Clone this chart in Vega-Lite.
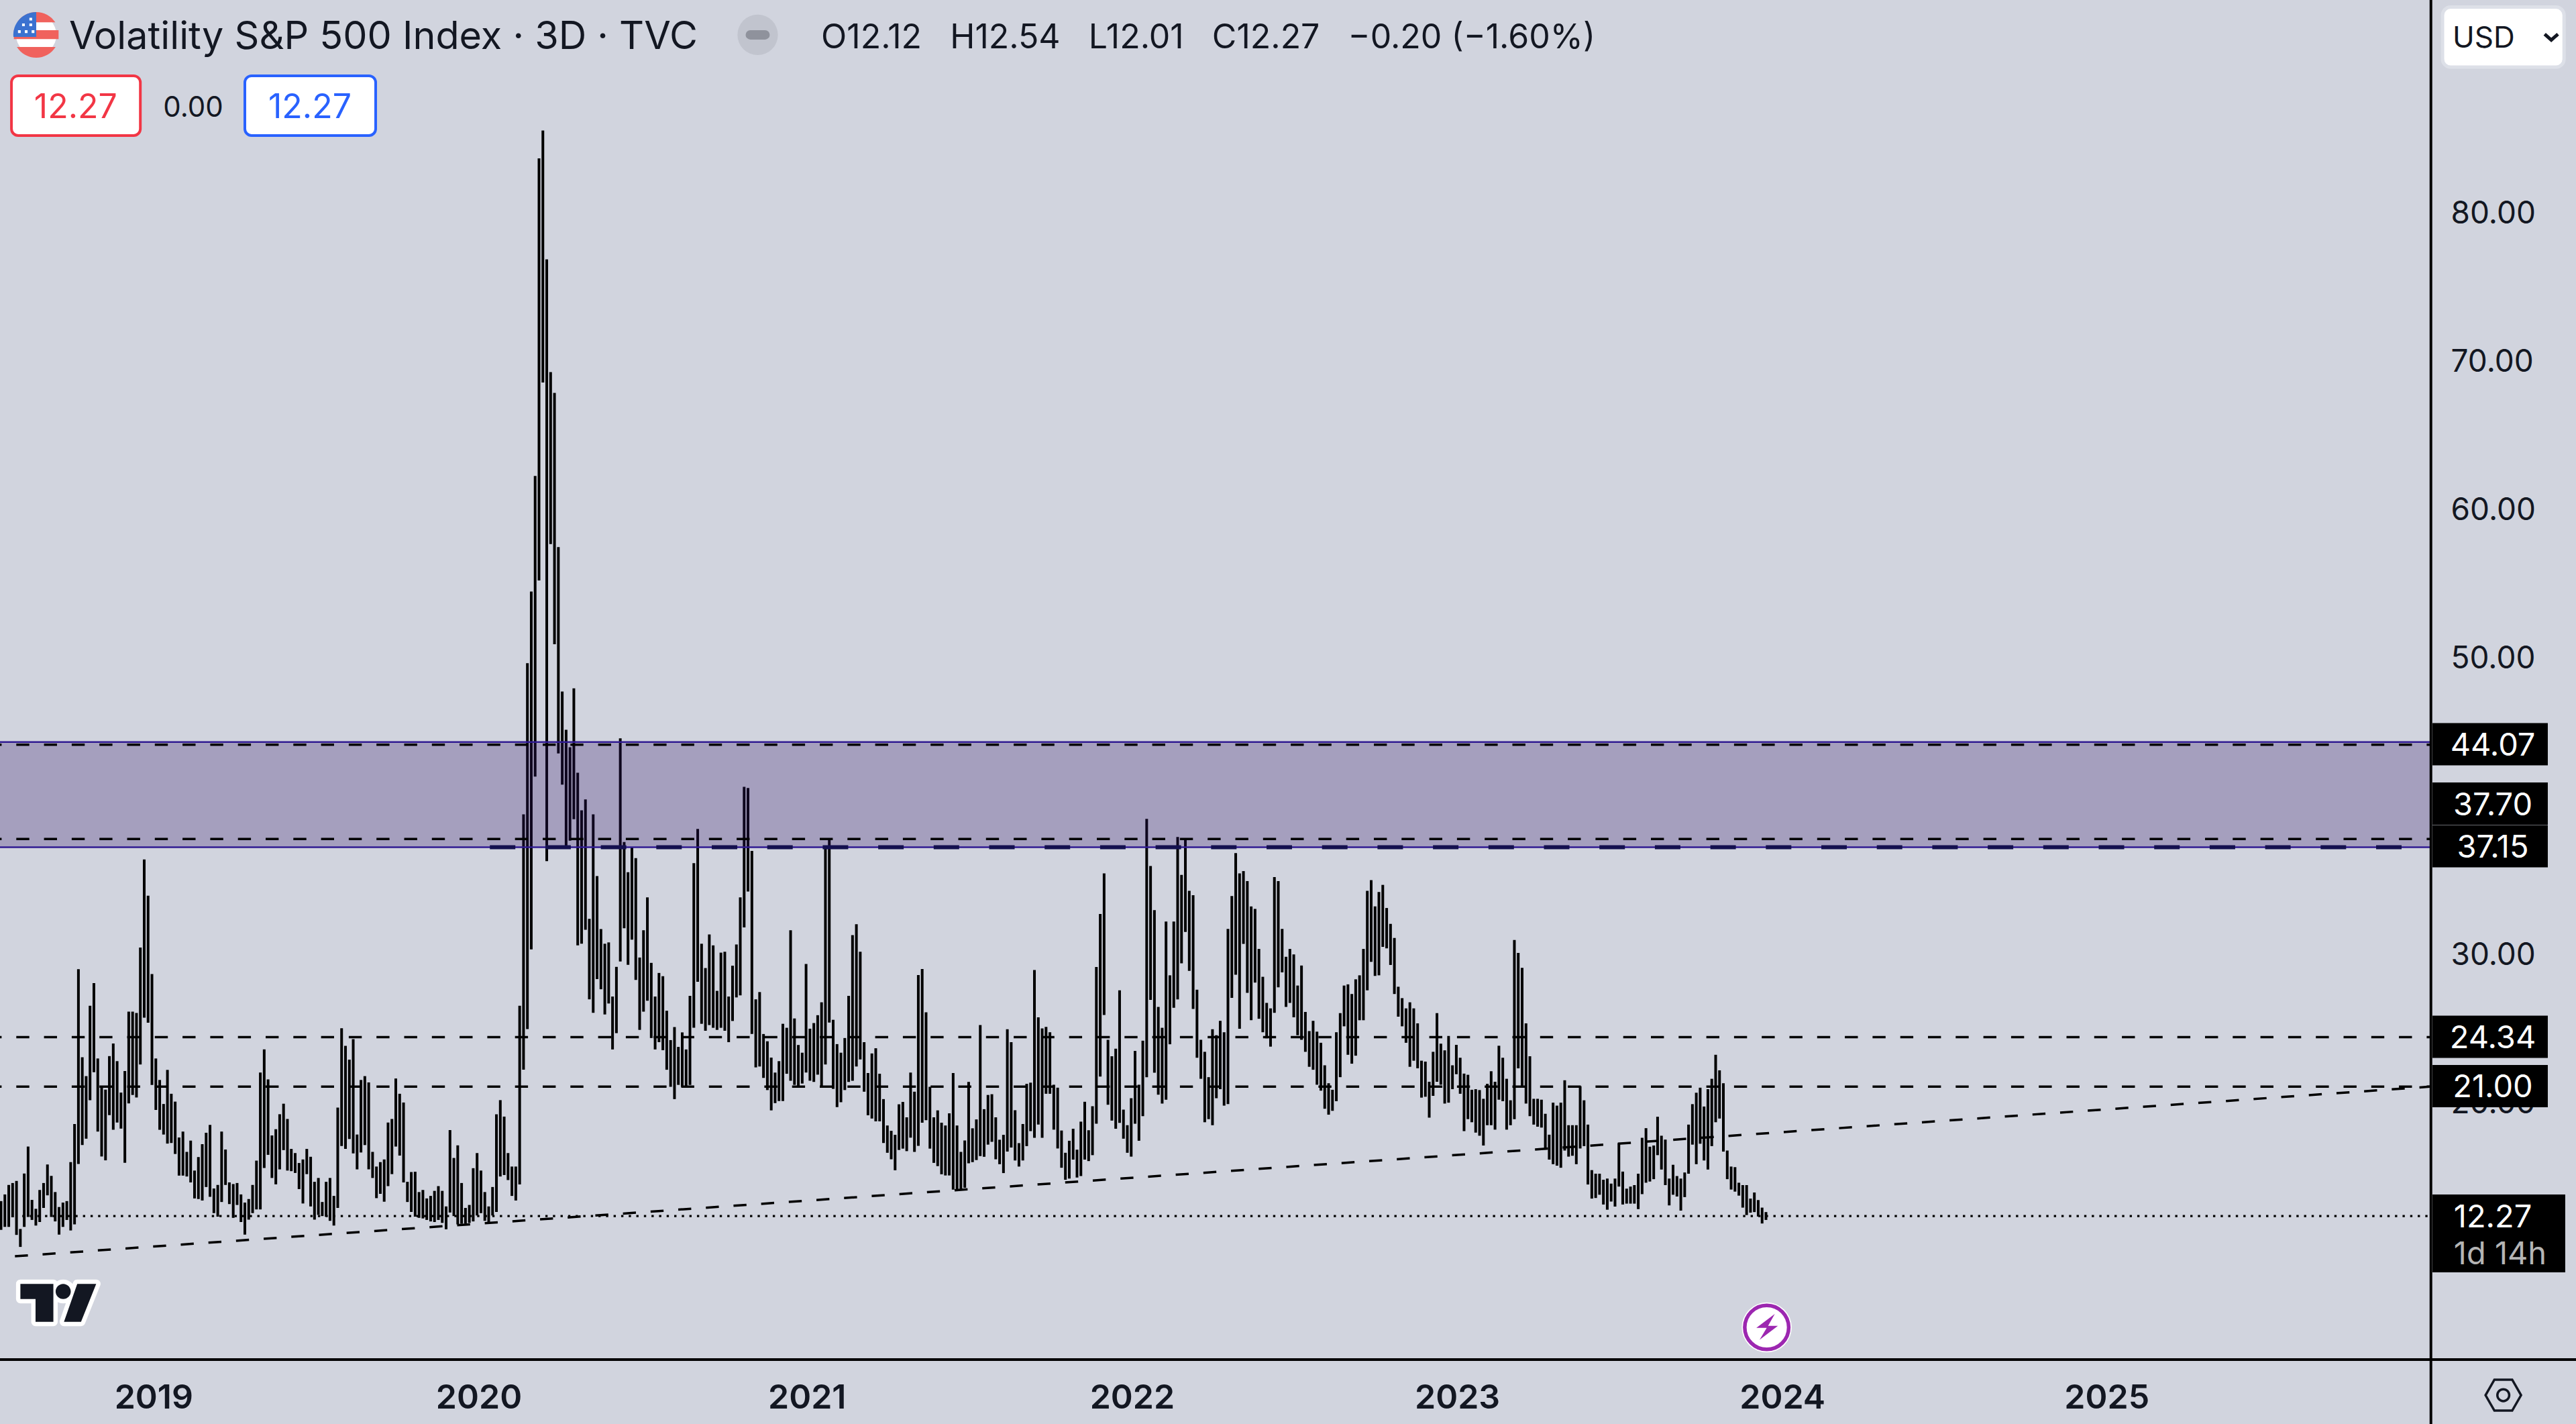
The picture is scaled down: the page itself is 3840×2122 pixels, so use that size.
{
  "$schema": "https://vega.github.io/schema/vega-lite/v6.json",
  "description": "Volatility S&P 500 Index, 3 day bars, with horizontal levels and a rising trend line.",
  "width": 3622,
  "height": 2026,
  "autosize": {"type": "none"},
  "padding": {"left": 0, "top": 0, "right": 218, "bottom": 96},
  "background": "#D1D4DE",
  "config": {"view": {"stroke": null}, "text": {"font": "Inter", "dy": 3}},
  "data": {"values": [{"row": 1}]},
  "datasets": {
    "bars": [
      {"bar":0,"high":13.28,"low":11.34},{"bar":1,"high":13.73,"low":11.54},{"bar":2,"high":14.37,"low":11.54},{"bar":3,"high":14.5,"low":12.19},{"bar":4,"high":14.64,"low":11.0},{"bar":5,"high":11.4,"low":10.19},{"bar":6,"high":15.14,"low":11.54},{"bar":7,"high":16.96,"low":12.21},{"bar":8,"high":13.36,"low":12.01},{"bar":9,"high":12.76,"low":11.63},
      {"bar":10,"high":14.03,"low":11.87},{"bar":11,"high":14.5,"low":12.82},{"bar":12,"high":15.75,"low":13.67},{"bar":13,"high":14.98,"low":12.21},{"bar":14,"high":13.89,"low":11.91},{"bar":15,"high":12.88,"low":11.02},{"bar":16,"high":13.18,"low":11.54},{"bar":17,"high":13.28,"low":12.01},{"bar":18,"high":15.91,"low":11.3},{"bar":19,"high":18.48,"low":11.71},
      {"bar":20,"high":28.92,"low":15.79},{"bar":21,"high":22.98,"low":17.06},{"bar":22,"high":21.71,"low":17.49},{"bar":23,"high":26.46,"low":20.09},{"bar":24,"high":27.99,"low":21.97},{"bar":25,"high":22.9,"low":17.97},{"bar":26,"high":21.04,"low":16.29},{"bar":27,"high":20.8,"low":16.03},{"bar":28,"high":23.06,"low":19.08},{"bar":29,"high":23.91,"low":18.09},
      {"bar":30,"high":22.72,"low":18.58},{"bar":31,"high":20.6,"low":18.17},{"bar":32,"high":22.05,"low":15.87},{"bar":33,"high":26.06,"low":19.87},{"bar":34,"high":26.06,"low":20.44},{"bar":35,"high":25.97,"low":20.27},{"bar":36,"high":30.38,"low":22.5},{"bar":37,"high":36.32,"low":25.65},{"bar":38,"high":33.88,"low":25.31},{"bar":39,"high":28.6,"low":21.12},
      {"bar":40,"high":22.9,"low":19.43},{"bar":41,"high":21.45,"low":18.09},{"bar":42,"high":19.83,"low":17.77},{"bar":43,"high":22.13,"low":17.16},{"bar":44,"high":20.52,"low":17.2},{"bar":45,"high":19.99,"low":16.46},{"bar":46,"high":17.57,"low":15.0},{"bar":47,"high":17.97,"low":15.0},{"bar":48,"high":16.6,"low":14.94},{"bar":49,"high":17.36,"low":14.54},
      {"bar":50,"high":15.34,"low":13.46},{"bar":51,"high":16.25,"low":13.42},{"bar":52,"high":17.12,"low":13.32},{"bar":53,"high":17.89,"low":14.23},{"bar":54,"high":18.42,"low":13.57},{"bar":55,"high":14.13,"low":12.47},{"bar":56,"high":14.37,"low":12.23},{"bar":57,"high":17.97,"low":13.22},{"bar":58,"high":16.76,"low":14.37},{"bar":59,"high":14.54,"low":13.08},
      {"bar":60,"high":14.43,"low":12.15},{"bar":61,"high":14.5,"low":13.02},{"bar":62,"high":13.73,"low":11.87},{"bar":63,"high":13.18,"low":11.02},{"bar":64,"high":13.42,"low":12.03},{"bar":65,"high":14.37,"low":12.47},{"bar":66,"high":16.01,"low":12.72},{"bar":67,"high":21.95,"low":12.72},{"bar":68,"high":23.51,"low":15.51},{"bar":69,"high":21.49,"low":16.4},
      {"bar":70,"high":17.71,"low":14.84},{"bar":71,"high":18.13,"low":14.41},{"bar":72,"high":19.14,"low":15.42},{"bar":73,"high":19.85,"low":16.72},{"bar":74,"high":18.82,"low":15.34},{"bar":75,"high":16.8,"low":15.3},{"bar":76,"high":16.52,"low":15.18},{"bar":77,"high":15.85,"low":14.09},{"bar":78,"high":16.09,"low":13.12},{"bar":79,"high":16.8,"low":15.1},
      {"bar":80,"high":16.27,"low":12.92},{"bar":81,"high":14.58,"low":12.03},{"bar":82,"high":14.84,"low":12.35},{"bar":83,"high":13.22,"low":12.27},{"bar":84,"high":14.58,"low":12.23},{"bar":85,"high":14.84,"low":11.95},{"bar":86,"high":13.63,"low":11.63},{"bar":87,"high":19.59,"low":12.82},{"bar":88,"high":24.94,"low":17.0},{"bar":89,"high":23.75,"low":16.8},
      {"bar":90,"high":22.82,"low":17.47},{"bar":91,"high":24.2,"low":16.5},{"bar":92,"high":17.77,"low":15.42},{"bar":93,"high":21.45,"low":16.56},{"bar":94,"high":21.71,"low":17.06},{"bar":95,"high":21.29,"low":15.42},{"bar":96,"high":16.6,"low":14.84},{"bar":97,"high":15.61,"low":13.48},{"bar":98,"high":15.91,"low":13.77},{"bar":99,"high":16.09,"low":13.24},
      {"bar":100,"high":18.58,"low":14.29},{"bar":101,"high":18.82,"low":15.1},{"bar":102,"high":21.55,"low":16.96},{"bar":103,"high":20.52,"low":16.35},{"bar":104,"high":19.93,"low":14.54},{"bar":105,"high":14.58,"low":13.22},{"bar":106,"high":15.24,"low":12.55},{"bar":107,"high":15.26,"low":12.23},{"bar":108,"high":13.89,"low":12.15},{"bar":109,"high":14.03,"low":12.11},
      {"bar":110,"high":13.46,"low":12.01},{"bar":111,"high":13.63,"low":11.91},{"bar":112,"high":13.97,"low":11.87},{"bar":113,"high":14.29,"low":12.01},{"bar":114,"high":13.97,"low":11.81},{"bar":115,"high":12.92,"low":11.38},{"bar":116,"high":18.07,"low":12.51},{"bar":117,"high":16.19,"low":12.27},{"bar":118,"high":17.04,"low":11.71},{"bar":119,"high":14.5,"low":11.75},
      {"bar":120,"high":12.82,"low":11.75},{"bar":121,"high":13.02,"low":11.81},{"bar":122,"high":15.5,"low":11.91},{"bar":123,"high":16.52,"low":12.31},{"bar":124,"high":15.34,"low":12.47},{"bar":125,"high":13.89,"low":11.95},{"bar":126,"high":12.92,"low":11.75},{"bar":127,"high":14.23,"low":12.31},{"bar":128,"high":19.14,"low":12.55},{"bar":129,"high":20.09,"low":14.94},
      {"bar":130,"high":18.98,"low":15.04},{"bar":131,"high":16.52,"low":14.7},{"bar":132,"high":15.61,"low":13.63},{"bar":133,"high":15.61,"low":13.32},{"bar":134,"high":26.46,"low":14.41},{"bar":135,"high":39.37,"low":22.14},{"bar":136,"high":49.57,"low":24.88},{"bar":137,"high":54.4,"low":30.26},{"bar":138,"high":62.2,"low":41.92},{"bar":139,"high":83.62,"low":55.14},
      {"bar":140,"high":85.5,"low":68.5},{"bar":141,"high":76.8,"low":36.21},{"bar":142,"high":69.2,"low":57.6},{"bar":143,"high":67.8,"low":50.84},{"bar":144,"high":57.4,"low":43.48},{"bar":145,"high":47.65,"low":41.37},{"bar":146,"high":45.07,"low":37.17},{"bar":147,"high":43.9,"low":37.59},{"bar":148,"high":47.87,"low":39.04},{"bar":149,"high":42.17,"low":30.53},
      {"bar":150,"high":39.64,"low":30.64},{"bar":151,"high":40.38,"low":31.58},{"bar":152,"high":32.32,"low":26.89},{"bar":153,"high":39.37,"low":25.98},{"bar":154,"high":35.2,"low":28.26},{"bar":155,"high":31.63,"low":27.57},{"bar":156,"high":30.64,"low":25.87},{"bar":157,"high":30.73,"low":26.61},{"bar":158,"high":27.08,"low":23.51},{"bar":159,"high":29.08,"low":24.61},
      {"bar":160,"high":44.5,"low":29.44},{"bar":161,"high":37.5,"low":31.69},{"bar":162,"high":35.47,"low":29.22},{"bar":163,"high":37.17,"low":30.92},{"bar":164,"high":36.41,"low":28.2},{"bar":165,"high":29.71,"low":24.83},{"bar":166,"high":31.55,"low":26.06},{"bar":167,"high":33.77,"low":26.8},{"bar":168,"high":29.35,"low":24.28},{"bar":169,"high":27.08,"low":23.51},
      {"bar":170,"high":28.67,"low":24.0},{"bar":171,"high":28.45,"low":23.46},{"bar":172,"high":26.12,"low":22.14},{"bar":173,"high":24.14,"low":20.99},{"bar":174,"high":25.02,"low":20.16},{"bar":175,"high":23.68,"low":21.12},{"bar":176,"high":24.66,"low":20.99},{"bar":177,"high":23.51,"low":20.93},{"bar":178,"high":27.13,"low":21.12},{"bar":179,"high":36.08,"low":24.97},
      {"bar":180,"high":38.38,"low":28.07},{"bar":181,"high":30.64,"low":25.24},{"bar":182,"high":29.0,"low":24.77},{"bar":183,"high":31.27,"low":25.16},{"bar":184,"high":30.53,"low":24.97},{"bar":185,"high":27.46,"low":24.83},{"bar":186,"high":30.04,"low":24.97},{"bar":187,"high":30.1,"low":24.77},{"bar":188,"high":27.08,"low":24.0},{"bar":189,"high":29.16,"low":25.43},
      {"bar":190,"high":30.59,"low":27.02},{"bar":191,"high":33.77,"low":27.16},{"bar":192,"high":41.23,"low":31.74},{"bar":193,"high":41.15,"low":34.16},{"bar":194,"high":36.9,"low":24.55},{"bar":195,"high":26.89,"low":22.3},{"bar":196,"high":27.38,"low":22.36},{"bar":197,"high":24.55,"low":21.59},{"bar":198,"high":24.06,"low":20.77},{"bar":199,"high":22.96,"low":19.4},
      {"bar":200,"high":21.95,"low":19.89},{"bar":201,"high":22.72,"low":20.03},{"bar":202,"high":25.24,"low":20.03},{"bar":203,"high":24.97,"low":21.87},{"bar":204,"high":31.55,"low":21.4},{"bar":205,"high":25.6,"low":21.12},{"bar":206,"high":23.81,"low":20.99},{"bar":207,"high":23.29,"low":21.21},{"bar":208,"high":29.27,"low":21.95},{"bar":209,"high":24.91,"low":21.4},
      {"bar":210,"high":25.29,"low":21.32},{"bar":211,"high":25.82,"low":21.81},{"bar":212,"high":26.69,"low":21.04},{"bar":213,"high":37.17,"low":22.5},{"bar":214,"high":37.67,"low":25.32},{"bar":215,"high":25.51,"low":20.85},{"bar":216,"high":23.87,"low":19.62},{"bar":217,"high":23.29,"low":19.95},{"bar":218,"high":24.28,"low":20.77},{"bar":219,"high":27.13,"low":21.32},
      {"bar":220,"high":31.22,"low":21.4},{"bar":221,"high":31.96,"low":22.36},{"bar":222,"high":30.1,"low":22.83},{"bar":223,"high":24.0,"low":20.66},{"bar":224,"high":21.92,"low":19.07},{"bar":225,"high":23.24,"low":18.85},{"bar":226,"high":23.59,"low":18.66},{"bar":227,"high":21.87,"low":18.66},{"bar":228,"high":20.16,"low":17.2},{"bar":229,"high":18.38,"low":16.54},
      {"bar":230,"high":18.02,"low":16.1},{"bar":231,"high":17.75,"low":15.36},{"bar":232,"high":19.81,"low":16.73},{"bar":233,"high":19.97,"low":16.82},{"bar":234,"high":18.93,"low":16.65},{"bar":235,"high":21.95,"low":17.56},{"bar":236,"high":20.66,"low":16.6},{"bar":237,"high":28.53,"low":17.01},{"bar":238,"high":28.94,"low":18.57},{"bar":239,"high":26.01,"low":18.74},
      {"bar":240,"high":20.99,"low":16.82},{"bar":241,"high":18.93,"low":15.86},{"bar":242,"high":19.4,"low":15.64},{"bar":243,"high":18.57,"low":15.09},{"bar":244,"high":18.38,"low":15.01},{"bar":245,"high":19.2,"low":15.01},{"bar":246,"high":21.92,"low":14.05},{"bar":247,"high":18.38,"low":14.05},{"bar":248,"high":16.6,"low":14.05},{"bar":249,"high":17.37,"low":14.18},
      {"bar":250,"high":21.32,"low":15.83},{"bar":251,"high":18.19,"low":15.91},{"bar":252,"high":18.79,"low":16.05},{"bar":253,"high":25.16,"low":16.32},{"bar":254,"high":19.48,"low":16.27},{"bar":255,"high":20.44,"low":17.09},{"bar":256,"high":20.49,"low":17.28},{"bar":257,"high":18.93,"low":16.1},{"bar":258,"high":17.42,"low":15.77},{"bar":259,"high":17.75,"low":15.17},
      {"bar":260,"high":24.87,"low":16.62},{"bar":261,"high":24.0,"low":16.89},{"bar":262,"high":19.41,"low":16.02},{"bar":263,"high":17.19,"low":15.61},{"bar":264,"high":18.48,"low":16.02},{"bar":265,"high":21.19,"low":16.99},{"bar":266,"high":21.27,"low":18.0},{"bar":267,"high":28.87,"low":17.55},{"bar":268,"high":25.68,"low":18.44},{"bar":269,"high":24.93,"low":17.55},
      {"bar":270,"high":25.03,"low":20.52},{"bar":271,"high":24.67,"low":20.52},{"bar":272,"high":21.13,"low":18.1},{"bar":273,"high":20.93,"low":16.83},{"bar":274,"high":18.04,"low":15.53},{"bar":275,"high":16.54,"low":14.72},{"bar":276,"high":17.35,"low":14.8},{"bar":277,"high":18.16,"low":16.08},{"bar":278,"high":16.75,"low":14.87},{"bar":279,"high":18.64,"low":14.97},
      {"bar":280,"high":19.98,"low":16.08},{"bar":281,"high":18.06,"low":15.98},{"bar":282,"high":19.68,"low":16.38},{"bar":283,"high":29.07,"low":18.5},{"bar":284,"high":32.65,"low":21.68},{"bar":285,"high":35.38,"low":25.84},{"bar":286,"high":24.16,"low":19.78},{"bar":287,"high":23.05,"low":18.71},{"bar":288,"high":23.56,"low":18.16},{"bar":289,"high":27.5,"low":18.56},
      {"bar":290,"high":19.45,"low":17.49},{"bar":291,"high":18.4,"low":16.54},{"bar":292,"high":20.22,"low":16.28},{"bar":293,"high":23.41,"low":18.5},{"bar":294,"high":21.13,"low":17.35},{"bar":295,"high":24.1,"low":19.01},{"bar":296,"high":39.06,"low":21.64},{"bar":297,"high":35.88,"low":26.85},{"bar":298,"high":32.91,"low":21.94},{"bar":299,"high":26.38,"low":20.46},
      {"bar":300,"high":24.97,"low":19.86},{"bar":301,"high":32.14,"low":20.12},{"bar":302,"high":28.51,"low":23.86},{"bar":303,"high":32.14,"low":26.32},{"bar":304,"high":37.84,"low":26.89},{"bar":305,"high":35.28,"low":29.32},{"bar":306,"high":37.7,"low":31.44},{"bar":307,"high":34.21,"low":28.81},{"bar":308,"high":33.92,"low":26.24},{"bar":309,"high":27.54,"low":22.95},
      {"bar":310,"high":24.16,"low":21.53},{"bar":311,"high":23.35,"low":18.6},{"bar":312,"high":21.64,"low":18.81},{"bar":313,"high":24.87,"low":18.4},{"bar":314,"high":24.47,"low":20.22},{"bar":315,"high":25.44,"low":20.83},{"bar":316,"high":24.67,"low":19.72},{"bar":317,"high":31.64,"low":19.82},{"bar":318,"high":33.86,"low":26.99},{"bar":319,"high":36.75,"low":28.55},
      {"bar":320,"high":35.38,"low":24.91},{"bar":321,"high":35.54,"low":30.63},{"bar":322,"high":34.87,"low":27.33},{"bar":323,"high":33.16,"low":25.48},{"bar":324,"high":32.99,"low":28.02},{"bar":325,"high":30.29,"low":25.58},{"bar":326,"high":28.41,"low":24.67},{"bar":327,"high":26.65,"low":24.26},{"bar":328,"high":26.28,"low":23.7},{"bar":329,"high":35.14,"low":25.98},
      {"bar":330,"high":34.87,"low":27.7},{"bar":331,"high":31.64,"low":28.71},{"bar":332,"high":29.76,"low":26.38},{"bar":333,"high":30.29,"low":26.65},{"bar":334,"high":29.92,"low":25.68},{"bar":335,"high":27.82,"low":24.47},{"bar":336,"high":29.17,"low":24.16},{"bar":337,"high":26.04,"low":23.35},{"bar":338,"high":24.75,"low":22.34},{"bar":339,"high":25.44,"low":22.14},
      {"bar":340,"high":24.71,"low":21.13},{"bar":341,"high":23.96,"low":20.73},{"bar":342,"high":22.44,"low":19.51},{"bar":343,"high":21.23,"low":19.11},{"bar":344,"high":20.79,"low":19.37},{"bar":345,"high":24.67,"low":20.02},{"bar":346,"high":25.96,"low":21.64},{"bar":347,"high":27.82,"low":25.07},{"bar":348,"high":27.9,"low":23.15},{"bar":349,"high":27.25,"low":22.55},
      {"bar":350,"high":28.24,"low":23.09},{"bar":351,"high":28.51,"low":25.48},{"bar":352,"high":30.29,"low":25.48},{"bar":353,"high":34.21,"low":27.5},{"bar":354,"high":34.93,"low":29.42},{"bar":355,"high":33.16,"low":28.47},{"bar":356,"high":34.13,"low":28.51},{"bar":357,"high":34.61,"low":30.43},{"bar":358,"high":33.05,"low":30.33},{"bar":359,"high":31.98,"low":29.21},
      {"bar":360,"high":31.03,"low":27.25},{"bar":361,"high":27.74,"low":25.72},{"bar":362,"high":26.97,"low":25.07},{"bar":363,"high":26.28,"low":23.96},{"bar":364,"high":26.69,"low":22.34},{"bar":365,"high":26.28,"low":22.75},{"bar":366,"high":25.27,"low":22.24},{"bar":367,"high":22.75,"low":20.26},{"bar":368,"high":22.69,"low":20.32},{"bar":369,"high":21.33,"low":18.91},
      {"bar":370,"high":23.35,"low":20.38},{"bar":371,"high":25.96,"low":21.33},{"bar":372,"high":23.9,"low":21.13},{"bar":373,"high":23.45,"low":19.86},{"bar":374,"high":24.42,"low":19.92},{"bar":375,"high":22.44,"low":20.83},{"bar":376,"high":23.82,"low":21.84},{"bar":377,"high":22.95,"low":20.52},{"bar":378,"high":21.88,"low":18.0},{"bar":379,"high":21.8,"low":18.81},
      {"bar":380,"high":20.79,"low":18.6},{"bar":381,"high":20.83,"low":17.9},{"bar":382,"high":20.77,"low":17.69},{"bar":383,"high":20.18,"low":17.03},{"bar":384,"high":21.19,"low":18.4},{"bar":385,"high":22.04,"low":18.4},{"bar":386,"high":21.33,"low":18.1},{"bar":387,"high":23.76,"low":20.12},{"bar":388,"high":22.95,"low":20.02},{"bar":389,"high":21.53,"low":18.1},
      {"bar":390,"high":20.08,"low":18.4},{"bar":391,"high":30.89,"low":18.81},{"bar":392,"high":30.02,"low":22.24},{"bar":393,"high":29.01,"low":21.03},{"bar":394,"high":25.27,"low":19.86},{"bar":395,"high":23.05,"low":19.01},{"bar":396,"high":20.18,"low":18.44},{"bar":397,"high":20.18,"low":18.3},{"bar":398,"high":20.12,"low":18.24},{"bar":399,"high":19.17,"low":16.75},
      {"bar":400,"high":17.76,"low":16.08},{"bar":401,"high":19.92,"low":15.77},{"bar":402,"high":19.72,"low":15.67},{"bar":403,"high":19.92,"low":15.53},{"bar":404,"high":21.43,"low":16.69},{"bar":405,"high":18.4,"low":16.28},{"bar":406,"high":18.4,"low":16.34},{"bar":407,"high":18.4,"low":15.77},{"bar":408,"high":21.03,"low":16.83},{"bar":409,"high":20.08,"low":16.99},
      {"bar":410,"high":18.44,"low":14.4},{"bar":411,"high":15.37,"low":13.45},{"bar":412,"high":15.13,"low":13.49},{"bar":413,"high":15.13,"low":13.71},{"bar":414,"high":14.72,"low":13.05},{"bar":415,"high":14.8,"low":12.7},{"bar":416,"high":14.46,"low":13.25},{"bar":417,"high":14.8,"low":12.91},{"bar":418,"high":17.19,"low":14.26},{"bar":419,"high":15.27,"low":13.05},
      {"bar":420,"high":14.12,"low":13.11},{"bar":421,"high":14.26,"low":13.11},{"bar":422,"high":14.36,"low":13.11},{"bar":423,"high":15.13,"low":12.74},{"bar":424,"high":17.55,"low":13.75},{"bar":425,"high":18.2,"low":14.52},{"bar":426,"high":16.95,"low":14.6},{"bar":427,"high":17.03,"low":14.76},{"bar":428,"high":18.97,"low":16.38},{"bar":429,"high":17.69,"low":15.41},
      {"bar":430,"high":17.43,"low":14.36},{"bar":431,"high":14.8,"low":12.99},{"bar":432,"high":15.73,"low":13.71},{"bar":433,"high":14.97,"low":13.59},{"bar":434,"high":14.8,"low":12.64},{"bar":435,"high":15.21,"low":13.55},{"bar":436,"high":18.44,"low":15.13},{"bar":437,"high":19.82,"low":17.09},{"bar":438,"high":20.59,"low":15.77},{"bar":439,"high":20.93,"low":17.15},
      {"bar":440,"high":19.66,"low":16.02},{"bar":441,"high":20.83,"low":15.41},{"bar":442,"high":21.53,"low":16.99},{"bar":443,"high":23.15,"low":18.6},{"bar":444,"high":22.1,"low":18.85},{"bar":445,"high":21.23,"low":16.62},{"bar":446,"high":16.69,"low":14.76},{"bar":447,"high":15.61,"low":14.06},{"bar":448,"high":15.57,"low":13.92},{"bar":449,"high":14.52,"low":13.65},
      {"bar":450,"high":14.36,"low":12.84},{"bar":451,"high":14.36,"low":12.34},{"bar":452,"high":13.45,"low":12.5},{"bar":453,"high":13.86,"low":12.54},{"bar":454,"high":13.35,"low":12.24},{"bar":455,"high":12.84,"low":11.77},{"bar":456,"high":12.54,"low":12.01}
    ],
    "levels": [{"price": 44.07}, {"price": 37.7}, {"price": 24.34}, {"price": 21.0}],
    "zone": [{"price": 44.25}, {"price": 37.15}],
    "tags": [
      {"label": "44.07", "at": 44.1},
      {"label": "37.70", "at": 40.09},
      {"label": "37.15", "at": 37.22},
      {"label": "24.34", "at": 24.36},
      {"label": "21.00", "at": 21.04}
    ]
  },
  "layer": [
    {
      "data": {"name": "bars"},
      "mark": {"type": "rule", "strokeWidth": 4, "color": "#000000"},
      "encoding": {
        "x": {
          "field": "bar",
          "type": "quantitative",
          "scale": {"domain": [-0.26, 627.5], "nice": false, "zero": false},
          "axis": {
            "orient": "bottom",
            "title": null,
            "grid": false,
            "ticks": false,
            "domain": false,
            "values": [39.4, 123.4, 208.2, 292.2, 376.2, 460.2, 544],
            "labelExpr": "datum.value<80?'2019':datum.value<160?'2020':datum.value<250?'2021':datum.value<330?'2022':datum.value<420?'2023':datum.value<500?'2024':'2025'",
            "labelFont": "Inter",
            "labelFontSize": 50,
            "labelFontWeight": 600,
            "labelColor": "#131722",
            "labelPadding": 32,
            "labelOverlap": false,
            "labelFlush": false
          }
        },
        "y": {
          "field": "high",
          "type": "quantitative",
          "scale": {"domain": [2.59, 94.3], "nice": false, "zero": false},
          "axis": {
            "orient": "right",
            "title": null,
            "grid": false,
            "ticks": false,
            "domain": false,
            "values": [20, 30, 40, 50, 60, 70, 80],
            "format": ".2f",
            "labelFont": "Inter",
            "labelFontSize": 46,
            "labelColor": "#131722",
            "labelPadding": 31,
            "labelOffset": 3,
            "labelOverlap": false,
            "labelFlush": false
          }
        },
        "y2": {"field": "low"}
      }
    },
    {
      "mark": {"type": "rect", "color": "#34176C", "opacity": 0.28},
      "encoding": {
        "y": {"datum": 44.25, "type": "quantitative"},
        "y2": {"datum": 37.15}
      }
    },
    {
      "data": {"name": "zone"},
      "mark": {"type": "rule", "strokeWidth": 2.5, "color": "#311B92"},
      "encoding": {"y": {"field": "price", "type": "quantitative"}}
    },
    {
      "data": {"name": "levels"},
      "mark": {"type": "rule", "strokeWidth": 3.5, "color": "#000000", "strokeDash": [19.4, 21.9], "strokeDashOffset": 14.8},
      "encoding": {"y": {"field": "price", "type": "quantitative"}}
    },
    {
      "mark": {"type": "rule", "strokeWidth": 6, "color": "#14104f", "strokeDash": [38, 44.7]},
      "encoding": {
        "x": {"datum": 126.3, "type": "quantitative"},
        "x2": {"datum": 627.5},
        "y": {"datum": 37.15, "type": "quantitative"}
      }
    },
    {
      "mark": {"type": "rule", "strokeWidth": 3.4, "color": "#000000", "strokeDash": [3.4, 7.9]},
      "encoding": {
        "x": {"datum": 5.5, "type": "quantitative"},
        "x2": {"datum": 627.3},
        "y": {"datum": 12.27, "type": "quantitative"}
      }
    },
    {
      "mark": {"type": "rule", "strokeWidth": 3.5, "color": "#000000", "strokeDash": [19.4, 21.9]},
      "encoding": {
        "x": {"datum": 3.6, "type": "quantitative"},
        "x2": {"datum": 627.5},
        "y": {"datum": 9.56, "type": "quantitative"},
        "y2": {"datum": 21.0}
      }
    },
    {
      "mark": {"type": "rule", "strokeWidth": 4, "color": "#000000"},
      "encoding": {
        "x": {"datum": 627.8, "type": "quantitative"},
        "y": {"datum": -1.76, "type": "quantitative"},
        "y2": {"datum": 94.3}
      }
    },
    {
      "mark": {"type": "rule", "strokeWidth": 4, "color": "#000000"},
      "encoding": {
        "x": {"datum": -0.26, "type": "quantitative"},
        "x2": {"datum": 665.3},
        "y": {"datum": 2.59, "type": "quantitative"}
      }
    },
    {
      "data": {"name": "tags"},
      "mark": {"type": "rule", "strokeWidth": 63, "color": "#000000"},
      "encoding": {
        "x": {"datum": 628.2, "type": "quantitative"},
        "x2": {"datum": 658},
        "y": {"field": "at", "type": "quantitative"}
      }
    },
    {
      "data": {"name": "tags"},
      "mark": {"type": "text", "fontSize": 47, "color": "#ffffff", "align": "center", "baseline": "middle"},
      "encoding": {
        "x": {"datum": 643.8, "type": "quantitative"},
        "y": {"field": "at", "type": "quantitative"},
        "text": {"field": "label"}
      }
    },
    {
      "mark": {"type": "rule", "strokeWidth": 116, "color": "#000000"},
      "encoding": {
        "x": {"datum": 628.2, "type": "quantitative"},
        "x2": {"datum": 662.5},
        "y": {"datum": 11.1, "type": "quantitative"}
      }
    },
    {
      "mark": {"type": "text", "text": "12.27", "fontSize": 47, "color": "#ffffff", "align": "left", "baseline": "middle"},
      "encoding": {
        "x": {"datum": 633.7, "type": "quantitative"},
        "y": {"datum": 12.27, "type": "quantitative"}
      }
    },
    {
      "mark": {"type": "text", "text": "1d 14h", "fontSize": 47, "color": "#b4b4b4", "align": "left", "baseline": "middle"},
      "encoding": {
        "x": {"datum": 633.7, "type": "quantitative"},
        "y": {"datum": 9.78, "type": "quantitative"}
      }
    },
    {
      "mark": {"type": "point", "filled": true, "size": 3632, "opacity": 1, "color": "#ffffff", "shape": "circle"},
      "encoding": {
        "x": {"datum": 9.1, "type": "quantitative"},
        "y": {"datum": 91.95, "type": "quantitative"}
      }
    },
    {
      "mark": {
        "type": "point", "filled": true, "size": 4624, "opacity": 1, "color": "#F0625D",
        "shape": "M-.835 -.55A1 1 0 0 1 .835 -.55ZM-.98 -.2H.98V.19H-.98ZM-.848 .53H.848A1 1 0 0 1 -.848 .53Z"
      },
      "encoding": {
        "x": {"datum": 9.1, "type": "quantitative"},
        "y": {"datum": 91.95, "type": "quantitative"}
      }
    },
    {
      "mark": {
        "type": "point", "filled": true, "size": 4624, "opacity": 1, "color": "#3B72D0",
        "shape": "M0 -1A1 1 0 0 0 -1 .09H0Z"
      },
      "encoding": {
        "x": {"datum": 9.1, "type": "quantitative"},
        "y": {"datum": 91.95, "type": "quantitative"}
      }
    },
    {
      "mark": {
        "type": "point", "filled": true, "size": 4624, "opacity": 1, "color": "#ffffff",
        "shape": "M-.3 -.75h.12v.12h-.12ZM-.62 -.5h.12v.12h-.12ZM-.3 -.5h.12v.12h-.12ZM-.8 -.2h.12v.12h-.12ZM-.5 -.2h.12v.12h-.12ZM-.2 -.2h.12v.12h-.12Z"
      },
      "encoding": {
        "x": {"datum": 9.1, "type": "quantitative"},
        "y": {"datum": 91.95, "type": "quantitative"}
      }
    },
    {
      "mark": {"type": "text", "text": "Volatility S&P 500 Index · 3D · TVC", "font": "Inter", "fontSize": 57.5, "color": "#131722", "align": "left", "baseline": "middle"},
      "encoding": {
        "x": {"datum": 17.6, "type": "quantitative"},
        "y": {"datum": 91.9, "type": "quantitative"}
      }
    },
    {
      "mark": {"type": "point", "filled": true, "shape": "circle", "size": 3632, "opacity": 1, "color": "#C1C4CE"},
      "encoding": {
        "x": {"datum": 195.5, "type": "quantitative"},
        "y": {"datum": 91.95, "type": "quantitative"}
      }
    },
    {
      "mark": {"type": "rule", "strokeWidth": 14, "strokeCap": "round", "color": "#8F929C"},
      "encoding": {
        "x": {"datum": 193.6, "type": "quantitative"},
        "x2": {"datum": 197.4},
        "y": {"datum": 91.95, "type": "quantitative"}
      }
    },
    {
      "mark": {"type": "text", "text": "O12.12\u00a0\u00a0\u00a0H12.54\u00a0\u00a0\u00a0L12.01\u00a0\u00a0\u00a0C12.27\u00a0\u00a0\u00a0−0.20\u00a0(−1.60%)", "font": "Inter", "fontSize": 50, "color": "#131722", "align": "left", "baseline": "middle"},
      "encoding": {
        "x": {"datum": 211.9, "type": "quantitative"},
        "y": {"datum": 91.86, "type": "quantitative"}
      }
    },
    {
      "mark": {"type": "rect", "fill": "#ffffff", "stroke": "#F23645", "strokeWidth": 4, "cornerRadius": 10},
      "encoding": {
        "x": {"datum": 2.7, "type": "quantitative"},
        "x2": {"datum": 36},
        "y": {"datum": 89.19, "type": "quantitative"},
        "y2": {"datum": 85.16}
      }
    },
    {
      "mark": {"type": "text", "text": "12.27", "fontSize": 50, "color": "#F23645", "align": "center", "baseline": "middle"},
      "encoding": {
        "x": {"datum": 19.3, "type": "quantitative"},
        "y": {"datum": 87.17, "type": "quantitative"}
      }
    },
    {
      "mark": {"type": "text", "text": "0.00", "fontSize": 42, "color": "#131722", "align": "center", "baseline": "middle"},
      "encoding": {
        "x": {"datum": 49.65, "type": "quantitative"},
        "y": {"datum": 87.17, "type": "quantitative"}
      }
    },
    {
      "mark": {"type": "rect", "fill": "#ffffff", "stroke": "#2962FF", "strokeWidth": 4, "cornerRadius": 10},
      "encoding": {
        "x": {"datum": 63, "type": "quantitative"},
        "x2": {"datum": 96.8},
        "y": {"datum": 89.19, "type": "quantitative"},
        "y2": {"datum": 85.16}
      }
    },
    {
      "mark": {"type": "text", "text": "12.27", "fontSize": 50, "color": "#2962FF", "align": "center", "baseline": "middle"},
      "encoding": {
        "x": {"datum": 79.8, "type": "quantitative"},
        "y": {"datum": 87.17, "type": "quantitative"}
      }
    },
    {
      "mark": {"type": "rect", "fill": "#ffffff", "stroke": "#DDE0E8", "strokeWidth": 5, "cornerRadius": 12},
      "encoding": {
        "x": {"datum": 630.8, "type": "quantitative"},
        "x2": {"datum": 662.2},
        "y": {"datum": 93.82, "type": "quantitative"},
        "y2": {"datum": 89.77}
      }
    },
    {
      "mark": {"type": "text", "text": "USD", "fontSize": 44, "color": "#131722", "align": "left", "baseline": "middle"},
      "encoding": {
        "x": {"datum": 633.4, "type": "quantitative"},
        "y": {"datum": 91.8, "type": "quantitative"}
      }
    },
    {
      "mark": {"type": "point", "shape": "M-.9 -.4L0 .4L.9 -.4", "size": 484, "opacity": 1, "filled": false, "stroke": "#131722", "strokeWidth": 5},
      "encoding": {
        "x": {"datum": 658.9, "type": "quantitative"},
        "y": {"datum": 91.8, "type": "quantitative"}
      }
    },
    {
      "mark": {"type": "point", "shape": "M-1 0L-.5 -.87H.5L1 0L.5 .87H-.5Z", "size": 2809, "opacity": 1, "filled": false, "stroke": "#131722", "strokeWidth": 3.5},
      "encoding": {
        "x": {"datum": 646.5, "type": "quantitative"},
        "y": {"datum": 0.19, "type": "quantitative"}
      }
    },
    {
      "mark": {"type": "point", "shape": "circle", "size": 314, "opacity": 1, "filled": false, "stroke": "#131722", "strokeWidth": 3.5},
      "encoding": {
        "x": {"datum": 646.5, "type": "quantitative"},
        "y": {"datum": 0.19, "type": "quantitative"}
      }
    },
    {
      "mark": {"type": "point", "shape": "M-1 -.5H-.13V.5H-.6V-.1H-1ZM-.07 -.3A.2 .2 0 1 0 .33 -.3A.2 .2 0 1 0 -.07 -.3ZM.5 -.5H1L.6 .5H.15Z", "size": 12769, "opacity": 1, "filled": false, "stroke": "#ffffff", "strokeWidth": 13, "strokeJoin": "round"},
      "encoding": {
        "x": {"datum": 14.8, "type": "quantitative"},
        "y": {"datum": 6.42, "type": "quantitative"}
      }
    },
    {
      "mark": {"type": "point", "shape": "M-1 -.5H-.13V.5H-.6V-.1H-1ZM-.07 -.3A.2 .2 0 1 0 .33 -.3A.2 .2 0 1 0 -.07 -.3ZM.5 -.5H1L.6 .5H.15Z", "size": 12769, "opacity": 1, "filled": true, "color": "#131722"},
      "encoding": {
        "x": {"datum": 14.8, "type": "quantitative"},
        "y": {"datum": 6.42, "type": "quantitative"}
      }
    },
    {
      "mark": {"type": "point", "filled": true, "shape": "circle", "size": 5542, "opacity": 1, "color": "#ffffff"},
      "encoding": {
        "x": {"datum": 456.2, "type": "quantitative"},
        "y": {"datum": 4.76, "type": "quantitative"}
      }
    },
    {
      "mark": {"type": "point", "shape": "circle", "size": 4300, "opacity": 1, "filled": false, "stroke": "#9C27B0", "strokeWidth": 5.5},
      "encoding": {
        "x": {"datum": 456.2, "type": "quantitative"},
        "y": {"datum": 4.76, "type": "quantitative"}
      }
    },
    {
      "mark": {"type": "point", "shape": "M.24 -.4L-.31 .013H0L-.213 .367L.333 -.047H.04Z", "size": 10000, "opacity": 1, "filled": true, "color": "#9C27B0"},
      "encoding": {
        "x": {"datum": 456.2, "type": "quantitative"},
        "y": {"datum": 4.76, "type": "quantitative"}
      }
    }
  ]
}
